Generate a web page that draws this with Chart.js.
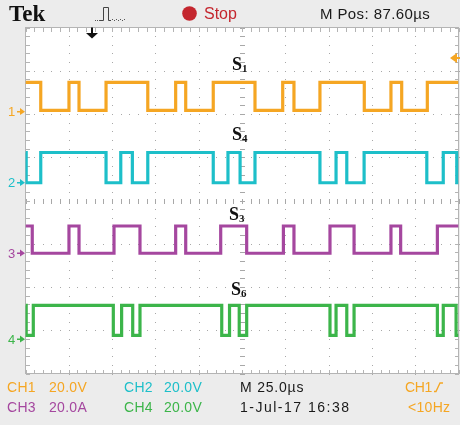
<!DOCTYPE html>
<html>
<head>
<meta charset="utf-8">
<script src="https://cdn.jsdelivr.net/npm/chart.js@4.4.0/dist/chart.umd.min.js"></script>
<style>
  html, body { margin: 0; padding: 0; background: #ececec; }
  #wrap { position: relative; width: 460px; height: 425px; overflow: hidden;
          font-family: "Liberation Sans", Arial, sans-serif; }
  #scope { position: absolute; left: 0; top: 0; }
  .t { position: absolute; white-space: pre; line-height: 1; }
  .s { font-family: "Liberation Serif", "Times New Roman", serif; font-weight: bold; font-size: 18px; color: #111; }
  .s span { font-size: 11px; position: relative; top: 2px; }
  .foot { font-size: 14px; letter-spacing: 0.3px; }
</style>
</head>
<body>
<div id="wrap">
  <canvas id="scope" width="460" height="425"></canvas>

  <div class="t" style="left:9px;top:2px;font-family:'Liberation Serif',serif;font-weight:bold;font-size:23px;color:#111;">Tek</div>
  <div class="t" style="left:204px;top:6px;font-size:16px;color:#c4262e;">Stop</div>
  <div class="t" style="left:320px;top:6px;font-size:15px;letter-spacing:0.4px;color:#1a1a1a;">M Pos: 87.60µs</div>

  <div class="t s" style="left:232px;top:55px;">S<span>1</span></div>
  <div class="t s" style="left:232px;top:125px;">S<span>4</span></div>
  <div class="t s" style="left:229px;top:205px;">S<span>3</span></div>
  <div class="t s" style="left:231px;top:280px;">S<span>6</span></div>

  <div class="t" style="left:8px;top:105px;font-size:13px;color:#f5a623;">1</div>
  <div class="t" style="left:8px;top:176px;font-size:13px;color:#1dbfc9;">2</div>
  <div class="t" style="left:8px;top:247px;font-size:13px;color:#a5479f;">3</div>
  <div class="t" style="left:8px;top:333px;font-size:13px;color:#3cb54a;">4</div>

  <div class="t foot" style="left:7px;top:380px;color:#f5a623;">CH1</div>
  <div class="t foot" style="left:49px;top:380px;color:#f5a623;">20.0V</div>
  <div class="t foot" style="left:124px;top:380px;color:#1dbfc9;">CH2</div>
  <div class="t foot" style="left:164px;top:380px;color:#1dbfc9;">20.0V</div>
  <div class="t foot" style="left:240px;top:380px;color:#1a1a1a;letter-spacing:0.8px;">M 25.0µs</div>
  <div class="t foot" style="left:405px;top:380px;color:#f5a623;letter-spacing:-0.3px;">CH1</div>
  <div class="t foot" style="left:7px;top:400px;color:#a5479f;">CH3</div>
  <div class="t foot" style="left:49px;top:400px;color:#a5479f;">20.0A</div>
  <div class="t foot" style="left:124px;top:400px;color:#3cb54a;">CH4</div>
  <div class="t foot" style="left:164px;top:400px;color:#3cb54a;">20.0V</div>
  <div class="t foot" style="left:240px;top:400px;color:#1a1a1a;letter-spacing:1.5px;">1-Jul-17 16:38</div>
  <div class="t foot" style="left:408px;top:400px;color:#f5a623;">&lt;10Hz</div>
</div>

<script>
// time axis: 10 div x 25 us, values in V (CH3 in A), 20 per div
const timeSpan = 250;
const chNames = ['CH1', 'CH2', 'CH3', 'CH4'];
const voltsPerDiv = [20, 20, 20, 20];
const chPosition = [2.05, 0.41, -1.22, -3.21];   // ground marker, in divisions
const highLevel = [13.6, 14.0, 12.6, 15.7];
const lowLevel = [0.7, 0.0, 0.0, 1.8];

// switching instants (us); each trace starts high and toggles at every edge
const ch1Edges = [8.8, 25.1, 30.9, 46.5, 70.6, 86.7, 92.5, 108.4, 132.5, 148.5, 155.0, 170.0, 195.6, 211.0, 217.2, 232.0];
const ch2Edges = [0.4, 8.8, 46.5, 55.0, 61.7, 70.6, 108.4, 116.9, 123.9, 132.5, 170.0, 179.3, 185.5, 195.5, 231.7, 241.2, 249.0];
const ch3Edges = [3.9, 25.1, 30.9, 51.1, 66.1, 86.7, 92.5, 112.7, 127.7, 148.9, 155.0, 175.8, 189.7, 211.0, 216.6, 237.8];
const ch4Edges = [0.4, 4.5, 50.7, 55.5, 61.9, 66.1, 113.3, 117.8, 123.4, 127.7, 175.8, 179.3, 185.5, 189.7, 237.8, 241.2, 248.6];

const chColors = ['#f5a623', '#1dbfc9', '#a5479f', '#3cb54a'];
const allEdges = [ch1Edges, ch2Edges, ch3Edges, ch4Edges];

function buildTrace(i) {
    const edges = allEdges[i];
    const toDiv = v => chPosition[i] + v / voltsPerDiv[i];
    let high = true;
    const pts = [{ x: 0, y: toDiv(highLevel[i]) }];
    edges.forEach(t => {
        high = !high;
        pts.push({ x: t, y: toDiv(high ? highLevel[i] : lowLevel[i]) });
    });
    pts.push({ x: timeSpan, y: toDiv(high ? highLevel[i] : lowLevel[i]) });
    return pts;
}

const graticule = {
    id: 'graticule',
    beforeDatasetsDraw(chart) {
        const { ctx, chartArea: a, scales: { x, y } } = chart;
        ctx.save();
        ctx.fillStyle = '#ffffff';
        ctx.fillRect(a.left, a.top, a.right - a.left, a.bottom - a.top);

        const minorX = [], minorY = [];
        for (let t = 0; t <= timeSpan + 0.01; t += 5) minorX.push(Math.round(x.getPixelForValue(t)));
        for (let d = -20; d <= 20; d++) minorY.push(Math.round(y.getPixelForValue(d / 5)));
        const cx = Math.round(x.getPixelForValue(125)), cy = Math.round(y.getPixelForValue(0));

        // dotted division lines
        ctx.fillStyle = '#a8a8a8';
        for (let t = 25; t < timeSpan; t += 25) {
            if (t === 125) continue;
            const px = Math.round(x.getPixelForValue(t));
            minorY.forEach(py => ctx.fillRect(px, py, 1, 1));
        }
        for (let d = -3; d <= 3; d++) {
            if (d === 0) continue;
            const py = Math.round(y.getPixelForValue(d));
            minorX.forEach(px => ctx.fillRect(px, py, 1, 1));
        }
        // centre axes with minor ticks
        minorX.forEach(px => ctx.fillRect(px, cy - 2, 1, 5));
        minorY.forEach(py => ctx.fillRect(cx - 2, py, 5, 1));
        // frame with inward ticks
        ctx.fillStyle = '#b4b4b4';
        minorX.forEach(px => { ctx.fillRect(px, Math.round(a.top), 1, 4); ctx.fillRect(px, Math.round(a.bottom) - 4, 1, 4); });
        minorY.forEach(py => { ctx.fillRect(Math.round(a.left), py, 4, 1); ctx.fillRect(Math.round(a.right) - 4, py, 4, 1); });
        ctx.strokeStyle = '#b4b4b4';
        ctx.lineWidth = 1;
        ctx.strokeRect(a.left, a.top, a.right - a.left, a.bottom - a.top);
        ctx.restore();
    },
    afterDraw(chart) {
        const { ctx, chartArea: a } = chart;
        ctx.save();
        // trigger icon in header
        ctx.strokeStyle = '#444';
        ctx.lineWidth = 1;
        ctx.beginPath();
        ctx.moveTo(100, 20.5); ctx.lineTo(103.5, 20.5); ctx.lineTo(103.5, 7.5);
        ctx.lineTo(108.5, 7.5); ctx.lineTo(108.5, 20.5); ctx.lineTo(111, 20.5);
        ctx.stroke();
        ctx.fillStyle = '#555';
        for (let px = 95; px < 101; px += 2) ctx.fillRect(px, 20, 1, 1);
        for (let px = 112; px < 126; px += 2) ctx.fillRect(px, 19 + (px % 4 === 0 ? 0 : 1), 1, 1);
        // stop dot
        ctx.fillStyle = '#c4262e';
        ctx.beginPath(); ctx.arc(189.5, 13.5, 7.3, 0, Math.PI * 2); ctx.fill();
        // trigger position arrow
        ctx.fillStyle = '#111';
        ctx.fillRect(91, a.top, 2, 6);
        ctx.beginPath(); ctx.moveTo(86, 33); ctx.lineTo(98, 33); ctx.lineTo(92, 38.5); ctx.closePath(); ctx.fill();
        // trigger level arrow
        ctx.fillStyle = chColors[0];
        ctx.beginPath(); ctx.moveTo(450, 58); ctx.lineTo(457, 53); ctx.lineTo(457, 63); ctx.closePath(); ctx.fill();
        ctx.fillRect(456, 57, 4, 2);
        // ground markers
        [111.5, 182.5, 253, 339].forEach((gy, i) => {
            ctx.fillStyle = chColors[i];
            ctx.fillRect(17, gy - 0.5, 4, 1.5);
            ctx.beginPath(); ctx.moveTo(20, gy - 3.5); ctx.lineTo(25, gy + 0.2); ctx.lineTo(20, gy + 3.5); ctx.closePath(); ctx.fill();
        });
        // rising edge trigger symbol
        ctx.strokeStyle = chColors[0];
        ctx.lineWidth = 1.3;
        ctx.beginPath(); ctx.moveTo(434, 391.5); ctx.lineTo(436, 391.5); ctx.lineTo(440, 383); ctx.lineTo(443, 383); ctx.stroke();
        ctx.restore();
    }
};

const ctx = document.getElementById('scope').getContext('2d');
new Chart(ctx, {
    type: 'line',
    data: {
        datasets: chNames.map((name, i) => ({
            label: name,
            data: buildTrace(i),
            borderColor: chColors[i],
            borderWidth: 3.2,
            stepped: true,
            pointRadius: 0,
            fill: false
        }))
    },
    options: {
        responsive: false,
        animation: false,
        devicePixelRatio: 1,
        layout: { padding: { left: 25.5, right: 1.5, top: 27.5, bottom: 51.5 } },
        plugins: { legend: { display: false }, tooltip: { enabled: false } },
        scales: {
            x: { type: 'linear', min: 0, max: timeSpan, display: false },
            y: { type: 'linear', min: -4, max: 4, display: false }
        }
    },
    plugins: [graticule]
});
</script>
</body>
</html>
